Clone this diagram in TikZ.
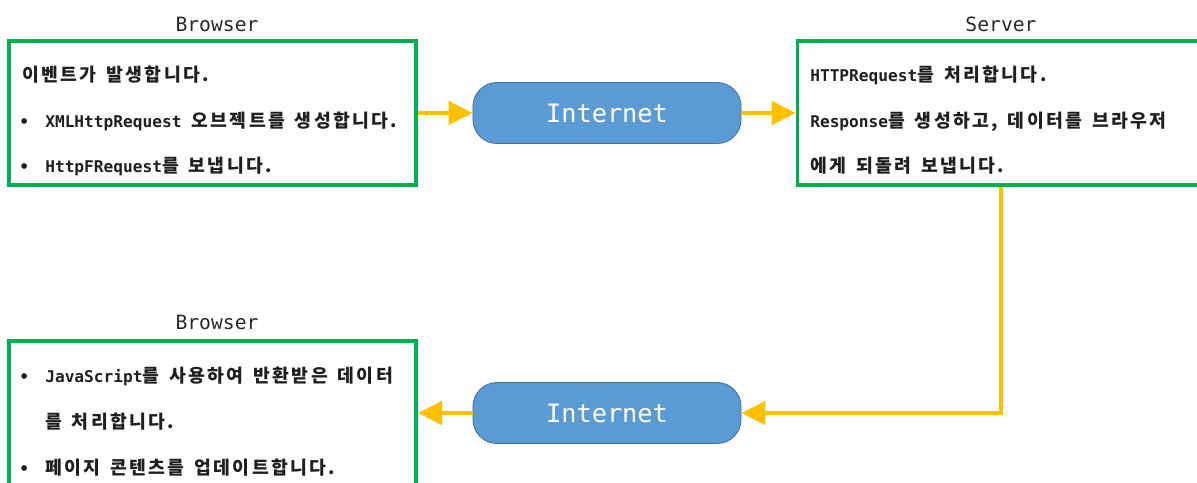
\documentclass[tikz,border=0pt]{standalone}
\usepackage{fontspec}
\setmainfont{Noto Sans CJK KR}[LetterSpace=13, WordSpace=1.5]
\newfontfamily\monofam{DejaVu Sans Mono}
\newcommand{\mn}[1]{{\monofam\fontsize{11.5}{13}\selectfont #1}}
\usepackage{tikz}
\usetikzlibrary{arrows.meta, positioning}
\definecolor{BoxGreen}{RGB}{0,176,80}
\definecolor{FlowGold}{RGB}{255,192,0}
\definecolor{NetBlue}{RGB}{91,155,213}
\definecolor{NetEdge}{RGB}{65,113,156}
\definecolor{TitleGray}{RGB}{40,40,40}

\begin{document}
\begin{tikzpicture}[
    x=0.025cm, y=-0.025cm,
    panel/.style={rectangle, draw=BoxGreen, line width=2.6pt, minimum width=10.175cm, minimum height=3.6cm},
    net/.style={rectangle, rounded corners=0.6cm, draw=NetEdge, line width=0.6pt, fill=NetBlue, minimum width=6.7cm, minimum height=1.525cm, text=white, font=\monofam\fontsize{18}{20}\selectfont},
    title/.style={anchor=base, inner sep=0pt, text=TitleGray, font=\monofam\fontsize{14}{16}\selectfont},
    line/.style={anchor=base west, inner sep=0pt, text=black!88, font=\bfseries\fontsize{13}{15}\selectfont},
    flow/.style={draw=FlowGold, line width=3.2pt, -{Triangle[length=0.6cm, width=0.58cm]}}
]
    \useasboundingbox (0,0) rectangle (1197,482);
    % Boxes and titles
    \node[panel] (req) at (212.75,113) {};
    \node[title] (reqtitle) at (217,31) {Browser};
    \node[panel] (srv) at (1001,113) {};
    \node[title] (srvtitle) at (1001,31) {Server};
    \node[panel] (res) at (212.75,413) {};
    \node[title] (restitle) at (217,329) {Browser};
    \node[net] (inetA) at (607,113) {Internet};
    \node[net] (inetB) at (607,413) {Internet};
    % Request side
    \node[line] (reqa) at (22,81) {이벤트가 발생합니다.};
    \node[line] (reqb) at (45,127) {\mn{XMLHttpRequest} 오브젝트를 생성합니다.};
    \node[line] (reqc) at (45,172) {\mn{HttpFRequest}를 보냅니다.};
    % Server side
    \node[line] (srva) at (810,81) {\mn{HTTPRequest}를 처리합니다.};
    \node[line] (srvb) at (810,127) {\mn{Response}를 생성하고, 데이터를 브라우저};
    \node[line] (srvc) at (810,172) {에게 되돌려 보냅니다.};
    % Response side
    \node[line] (resa) at (45,382) {\mn{JavaScript}를 사용하여 반환받은 데이터};
    \node[line] (resb) at (45,428) {를 처리합니다.};
    \node[line] (resc) at (45,474) {페이지 콘텐츠를 업데이트합니다.};
    \foreach \n/\x/\y in {d1/19/127, d2/19/172, d3/19/382, d4/19/474} {
        \node[line] (\n) at (\x,\y) {\mn{\textbullet}};
    }
    % Flow
    \draw[flow] (req.east) -- (inetA.west);
    \draw[flow] (inetA.east) -- (srv.west);
    \draw[flow] (srv.south) |- (inetB.east);
    \draw[flow] (inetB.west) -- (res.east);
\end{tikzpicture}
\end{document}
